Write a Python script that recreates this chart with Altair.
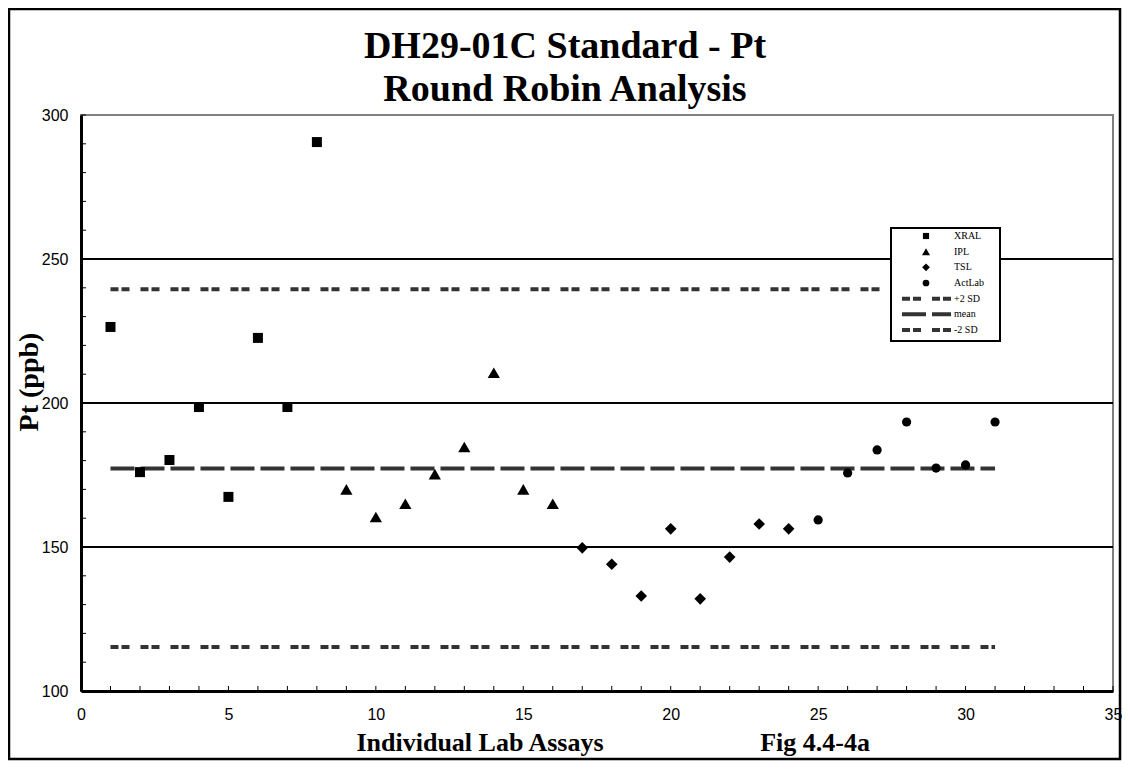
import altair as alt
import pandas as pd

# ---------------- data ----------------
title_lines = ["DH29-01C Standard - Pt", "Round Robin Analysis"]
x_title = "Individual Lab Assays"
fig_label = "Fig 4.4-4a"
y_title = "Pt  (ppb)"

series_names = ["XRAL", "IPL", "TSL", "ActLab"]
series_shapes = ["square", "triangle-up", "diamond", "circle"]

xral_x = [1, 2, 3, 4, 5, 6, 7, 8]
xral_y = [226.4, 176.0, 180.2, 198.6, 167.4, 222.6, 198.6, 290.6]
ipl_x = [9, 10, 11, 12, 13, 14, 15, 16]
ipl_y = [170.0, 160.4, 165.0, 175.3, 184.7, 210.5, 170.0, 165.0]
tsl_x = [17, 18, 19, 20, 21, 22, 23, 24]
tsl_y = [149.7, 144.0, 133.0, 156.3, 132.0, 146.5, 158.0, 156.3]
act_x = [25, 26, 27, 28, 29, 30, 31]
act_y = [159.4, 175.7, 183.7, 193.4, 177.4, 178.5, 193.4]

ref_names = ["+2 SD", "mean", "-2 SD"]
ref_values = [239.5, 177.3, 115.3]
ref_start = 1
ref_end = 31

grid_values = [150, 200, 250]
x_label_values = [0, 5, 10, 15, 20, 25, 30, 35]
y_label_values = [100, 150, 200, 250, 300]
x_minor_ticks = list(range(0, 36))
y_minor_ticks = list(range(100, 301, 10))

legend_labels = series_names + ref_names

# ---------------- layout ----------------
W, H = 1032, 576
PL, PT, PR, PB = 73, 107, 9, 70
SERIF = "Liberation Serif"
SANS = "Liberation Sans"

series_data = {
    "XRAL": (xral_x, xral_y),
    "IPL": (ipl_x, ipl_y),
    "TSL": (tsl_x, tsl_y),
    "ActLab": (act_x, act_y),
}
marker_size = {"XRAL": 100, "IPL": 150, "TSL": 135, "ActLab": 85}
legend_marker_size = {"XRAL": 38, "IPL": 64, "TSL": 60, "ActLab": 45}

refs = pd.DataFrame({"name": ref_names, "value": ref_values,
                     "x0": [ref_start] * 3, "x1": [ref_end] * 3})

xscale = alt.Scale(domain=[0, 35], nice=False, zero=False)
yscale = alt.Scale(domain=[100, 300], nice=False, zero=False)
dash_scale = alt.Scale(domain=ref_names, range=[[8, 3, 8, 11], [24, 6], [8, 3, 8, 11]])

xaxis = alt.Axis(values=x_label_values, ticks=False, grid=False, domainColor="black",
                 domainWidth=3, labelFont=SANS, labelFontSize=16, labelColor="black",
                 labelPadding=15, zindex=1, labelFlush=False, title=None)
yaxis = alt.Axis(values=y_label_values, ticks=False, grid=False, domainColor="black",
                 domainWidth=3, labelFont=SANS, labelFontSize=16, labelColor="black",
                 labelPadding=13, zindex=1, title=None)


def X(f):
    return alt.X(f, scale=xscale, axis=xaxis, title=None)


def Y(f):
    return alt.Y(f, scale=yscale, axis=yaxis, title=None)


grid = alt.Chart(pd.DataFrame({"g": grid_values})).mark_rule(
    color="black", strokeWidth=2).encode(
    y=Y("g:Q"), x=alt.value(0), x2=alt.value(W))

xt = alt.Chart(pd.DataFrame({"t": x_minor_ticks})).mark_rule(
    color="black", strokeWidth=1).encode(
    x=X("t:Q"), y=alt.value(H), y2=alt.value(H - 5))

yt = alt.Chart(pd.DataFrame({"t": y_minor_ticks})).mark_rule(
    color="black", strokeWidth=1).encode(
    y=Y("t:Q"), x=alt.value(0), x2=alt.value(5))

lines = alt.Chart(refs).mark_rule(color="#333333", strokeWidth=4).encode(
    x=X("x0:Q"), x2="x1:Q", y=Y("value:Q"),
    strokeDash=alt.StrokeDash("name:N", scale=dash_scale, legend=None))

point_layers = []
for name, shape in zip(series_names, series_shapes):
    xs, ys = series_data[name]
    df = pd.DataFrame({"x": xs, "y": ys, "series": [name] * len(xs)})
    point_layers.append(
        alt.Chart(df).mark_point(filled=True, color="black", opacity=1, shape=shape,
                                 size=marker_size[name], strokeWidth=0).encode(
            x=X("x:Q"), y=Y("y:Q"), tooltip=["series:N", "x:Q", "y:Q"]))

main = alt.layer(grid, xt, yt, lines, *point_layers)

# ---------------- legend (drawn box) ----------------
LX0, LX1, LY0, LY1 = 810, 919, 113, 226
leg_rows = pd.DataFrame({"label": legend_labels, "row": list(range(len(legend_labels)))})
row_scale = alt.Scale(domain=[0, 6], range=[121, 215])


def RY():
    return alt.Y("row:Q", scale=row_scale, axis=None)


box = alt.Chart(pd.DataFrame({"a": [0]})).mark_rect(
    fill="white", stroke="black", strokeWidth=2).encode(
    x=alt.value(LX0), x2=alt.value(LX1), y=alt.value(LY0), y2=alt.value(LY1))

leg_pts = []
for name, shape in zip(series_names, series_shapes):
    leg_pts.append(
        alt.Chart(leg_rows[leg_rows["label"] == name]).mark_point(
            filled=True, color="black", opacity=1, shape=shape,
            size=legend_marker_size[name], strokeWidth=0).encode(
            x=alt.value(845), y=RY()))

leg_lines = alt.Chart(leg_rows[leg_rows["label"].isin(ref_names)]).mark_rule(
    color="#333333", strokeWidth=4).encode(
    x=alt.value(821), x2=alt.value(870), y=RY(),
    strokeDash=alt.StrokeDash("label:N", scale=dash_scale, legend=None))

leg_text = alt.Chart(leg_rows).mark_text(
    align="left", baseline="middle", font=SERIF, fontSize=10, color="black").encode(
    x=alt.value(873), y=RY(), text="label:N")

legend = alt.layer(box, leg_lines, *leg_pts, leg_text)


# ---------------- texts ----------------
def txt(s, x, y, size, angle=0, weight="bold", align="center", baseline="alphabetic"):
    kw = dict(align=align, baseline=baseline, font=SERIF, fontSize=size,
              fontWeight=weight, color="black")
    if angle:
        kw["angle"] = angle
    return alt.Chart(pd.DataFrame({"s": [s]})).mark_text(**kw).encode(
        text="s:N", x=alt.value(x), y=alt.value(y))


frame = alt.Chart(pd.DataFrame({"a": [0]})).mark_rect(
    fill=None, stroke="black", strokeWidth=2.5).encode(
    x=alt.value(-72), x2=alt.value(W + PR - 2), y=alt.value(-106), y2=alt.value(H + PB - 2))

texts = alt.layer(
    txt(title_lines[0], 484, -57, 38),
    txt(title_lines[1], 484, -14, 38),
    txt(x_title, 399, 636, 26),
    txt(fig_label, 734, 636, 26),
    txt(y_title, -51, 267, 28, angle=270, baseline="middle"),
    frame,
)

chart = alt.layer(main, legend, texts).resolve_scale(
    y="independent", strokeDash="shared"
).properties(
    width=W, height=H,
    autosize=alt.AutoSizeParams(type="none"),
    padding={"left": PL, "top": PT, "right": PR, "bottom": PB},
    background="white",
).configure_view(stroke="#808080", strokeWidth=2)

chart.save("out.html", embed_options={"renderer": "svg", "actions": False})
